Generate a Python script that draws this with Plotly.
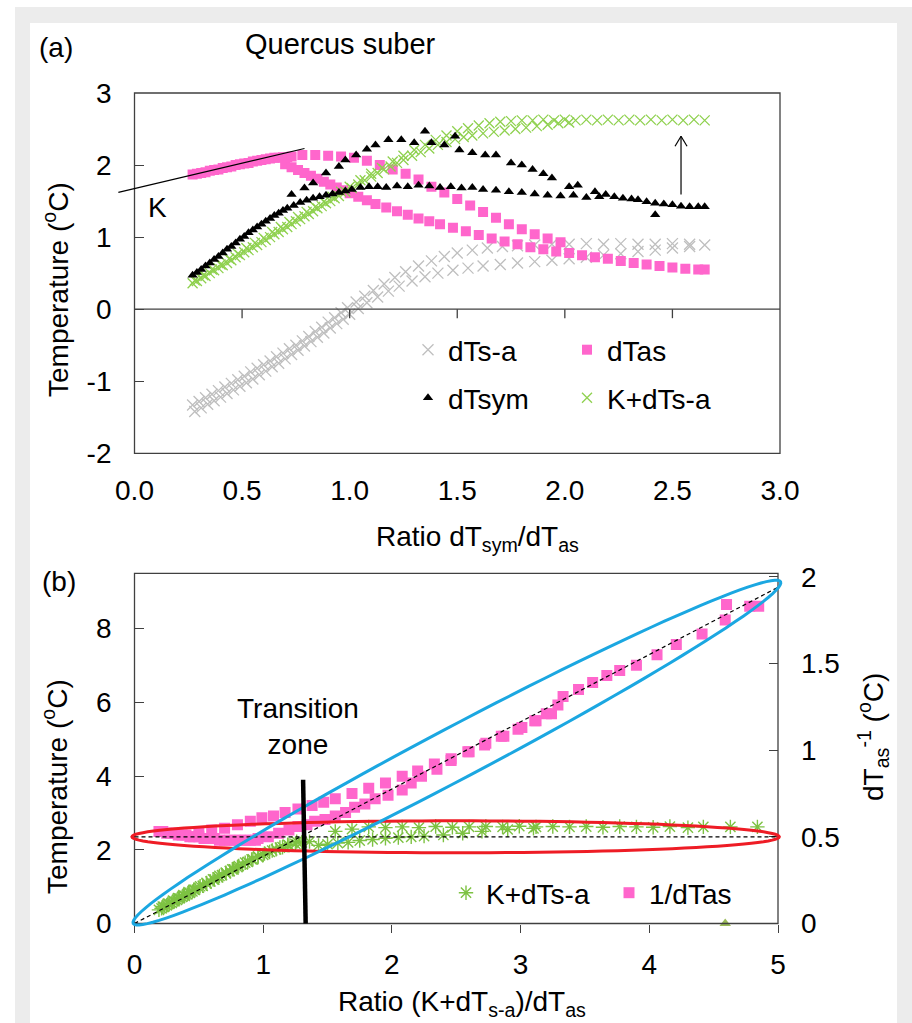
import math
import plotly.graph_objects as go

W, H = 912, 1023

# ---------------- panel (a) data ----------------
ratio_a_dtsa = [0.27,0.30,0.33,0.36,0.39,0.42,0.45,0.48,0.51,0.54,0.57,0.60,0.63,0.66,0.69,0.72,0.75,0.78,0.81,0.84,
                0.87,0.90,0.93,0.96,0.99,1.03,1.07,1.11,1.16,1.21,1.26,1.32,1.38,1.44,1.50,1.57,1.64,1.71,1.78,1.86,
                1.94,2.02,2.10,2.18,2.26,2.34,2.42,2.50,2.58,2.65,
                0.28,0.31,0.34,0.37,0.40,0.43,0.46,0.49,0.52,0.55,0.58,0.61,0.64,0.67,0.70,0.73,0.76,0.79,0.82,0.85,
                0.88,0.91,0.94,0.97,1.00,1.04,1.08,1.13,1.18,1.23,1.29,1.35,1.41,1.48,1.55,1.62,1.70,1.78,1.86,1.94,
                2.02,2.10,2.18,2.26,2.34,2.42,2.50,2.58]
dtsa = [-1.33,-1.28,-1.23,-1.18,-1.13,-1.08,-1.03,-0.98,-0.93,-0.87,-0.82,-0.77,-0.72,-0.66,-0.61,-0.55,-0.50,-0.44,-0.38,-0.31,
        -0.25,-0.18,-0.12,-0.05,0.02,0.10,0.18,0.26,0.35,0.44,0.52,0.60,0.67,0.73,0.78,0.82,0.85,0.87,0.88,0.89,
        0.90,0.90,0.91,0.90,0.91,0.90,0.90,0.91,0.90,0.89,
        -1.42,-1.37,-1.32,-1.27,-1.22,-1.17,-1.12,-1.07,-1.02,-0.97,-0.91,-0.86,-0.80,-0.75,-0.69,-0.63,-0.57,-0.51,-0.45,-0.39,
        -0.33,-0.26,-0.20,-0.14,-0.07,0.01,0.09,0.17,0.25,0.32,0.39,0.45,0.50,0.54,0.57,0.60,0.62,0.64,0.66,0.68,
        0.70,0.72,0.75,0.77,0.80,0.82,0.85,0.87]

ratio_a_dtas = [0.27,0.29,0.31,0.33,0.35,0.37,0.39,0.41,0.43,0.45,0.47,0.49,0.51,0.53,0.55,0.57,0.59,0.61,0.63,0.65,0.67,0.69,0.71,0.73,
                0.70,0.73,0.76,0.79,0.82,0.85,0.88,0.91,0.94,0.97,1.00,1.04,1.08,1.12,1.17,1.22,1.27,1.32,1.37,1.42,1.48,1.54,1.60,1.66,1.72,1.78,1.84,1.90,1.96,
                0.78,0.84,0.90,0.96,1.02,1.08,1.14,1.20,1.26,1.32,1.38,1.44,1.50,1.56,1.62,1.68,1.74,1.80,1.86,1.92,1.98,
                2.02,2.08,2.14,2.20,2.26,2.32,2.38,2.44,2.50,2.56,2.62,2.65]
dtas = [1.87,1.88,1.89,1.90,1.92,1.93,1.94,1.96,1.97,1.98,2.00,2.01,2.02,2.03,2.05,2.06,2.07,2.08,2.09,2.10,2.10,2.11,2.11,2.12,
        2.01,1.97,1.93,1.89,1.85,1.81,1.77,1.73,1.69,1.65,1.61,1.56,1.51,1.46,1.41,1.36,1.31,1.26,1.22,1.18,1.13,1.08,1.03,0.98,0.94,0.90,0.86,0.83,0.80,
        2.14,2.14,2.13,2.12,2.10,2.06,2.00,1.94,1.88,1.80,1.70,1.62,1.53,1.44,1.35,1.27,1.18,1.11,1.04,0.98,0.93,
        0.78,0.75,0.72,0.70,0.67,0.64,0.62,0.60,0.58,0.56,0.55,0.55]

ratio_a_dtsym = [0.27,0.29,0.31,0.33,0.35,0.37,0.39,0.41,0.43,0.45,0.47,0.49,0.51,0.53,0.55,0.57,0.59,0.61,0.63,0.65,0.67,0.69,0.71,0.74,0.77,0.80,0.83,0.86,0.89,0.92,0.95,0.98,1.01,
                 1.05,1.09,1.13,1.17,1.22,1.27,1.32,1.37,1.42,1.47,1.52,1.57,1.62,1.68,1.74,1.80,1.86,1.92,1.98,2.04,2.10,2.16,
                 0.73,0.79,0.83,0.89,0.95,0.98,1.03,1.08,1.12,1.18,1.24,1.30,1.35,1.38,1.44,1.49,1.51,1.57,1.63,1.68,1.75,1.80,1.85,1.90,1.94,2.02,2.06,
                 2.14,2.19,2.23,2.27,2.31,2.34,2.38,2.42,2.46,2.50,2.54,2.58,2.62,2.65,2.42]
dtsym = [0.47,0.51,0.55,0.60,0.64,0.69,0.73,0.78,0.83,0.87,0.92,0.97,1.01,1.06,1.10,1.14,1.18,1.22,1.26,1.30,1.33,1.37,1.40,1.44,1.48,1.51,1.54,1.56,1.58,1.60,1.62,1.64,1.66,
         1.69,1.70,1.70,1.69,1.71,1.70,1.72,1.71,1.69,1.70,1.68,1.69,1.66,1.65,1.63,1.62,1.60,1.58,1.57,1.58,1.55,1.56,
         1.59,1.68,1.75,1.89,1.98,2.07,2.14,2.22,2.28,2.35,2.35,2.31,2.47,2.31,2.28,2.40,2.21,2.17,2.14,2.14,2.03,2.00,1.94,1.88,1.82,1.70,1.72,
         1.63,1.59,1.56,1.54,1.53,1.52,1.49,1.47,1.46,1.45,1.43,1.42,1.42,1.42,1.31]

ratio_a_kdtsa = [0.27,0.29,0.31,0.33,0.35,0.37,0.39,0.41,0.43,0.45,0.47,0.49,0.51,0.53,0.55,0.57,0.59,0.61,0.63,0.65,0.67,0.69,0.71,0.73,0.75,
                 0.77,0.79,0.81,0.83,0.85,0.87,0.89,0.91,0.93,0.95,0.98,1.01,1.04,1.07,1.10,1.13,1.16,1.19,1.22,1.25,1.29,1.33,1.37,1.41,1.45,
                 1.49,1.53,1.57,1.62,1.67,1.72,1.77,1.82,1.87,1.92,1.97,2.02,
                 0.28,0.32,0.36,0.40,0.44,0.48,0.52,0.56,0.60,0.64,0.68,0.72,0.76,0.80,0.84,0.88,0.92,0.96,1.00,1.05,1.10,1.15,1.20,1.25,1.30,
                 1.35,1.40,1.45,1.50,1.55,1.60,1.65,1.70,1.75,1.80,1.85,1.90,1.95,2.00,2.05,2.10,2.15,2.20,2.25,2.30,2.35,2.40,2.45,2.50,2.55,2.60,2.65]
kdtsa = [0.36,0.39,0.43,0.46,0.50,0.54,0.57,0.61,0.64,0.68,0.72,0.75,0.79,0.82,0.86,0.89,0.93,0.96,1.00,1.04,1.07,1.11,1.14,1.18,1.22,
         1.25,1.29,1.32,1.36,1.40,1.43,1.47,1.50,1.54,1.57,1.63,1.68,1.73,1.79,1.84,1.89,1.94,1.98,2.03,2.07,2.13,2.18,2.23,2.28,2.32,
         2.36,2.39,2.41,2.44,2.46,2.48,2.50,2.52,2.54,2.56,2.58,2.59,
         0.40,0.47,0.55,0.62,0.70,0.77,0.85,0.92,0.99,1.07,1.14,1.21,1.28,1.35,1.42,1.49,1.56,1.63,1.70,1.79,1.88,1.96,2.05,2.13,2.21,
         2.28,2.35,2.41,2.47,2.51,2.55,2.58,2.60,2.61,2.62,2.62,2.63,2.62,2.63,2.62,2.63,2.62,2.63,2.62,2.63,2.62,2.63,2.62,2.63,2.62,2.63,2.62]

# ---------------- panel (b) data ----------------
ratio_b_kdtsa = [0.19,0.21,0.23,0.25,0.27,0.29,0.31,0.33,0.35,0.37,0.39,0.41,0.43,0.45,0.47,0.50,0.53,0.56,0.59,0.62,0.65,0.68,0.71,0.74,0.77,
                 0.80,0.84,0.88,0.92,0.96,1.00,1.05,1.10,1.15,1.20,1.25,1.30,1.36,1.43,1.50,1.58,1.66,1.75,1.85,1.95,2.05,2.15,2.25,2.40,2.55,2.70,2.90,3.10,
                 0.22,0.26,0.30,0.34,0.38,0.42,0.46,0.51,0.56,0.61,0.66,0.71,0.76,0.81,0.86,0.91,0.96,1.01,1.07,1.13,1.19,1.26,
                 1.56,1.69,1.82,1.95,2.08,2.21,2.34,2.47,2.60,2.73,2.86,2.99,3.12,3.25,3.38,3.51,3.64,3.77,3.90,4.03,4.16,4.30,4.42,4.63,4.84]
kdtsa_b = [0.37,0.41,0.45,0.49,0.53,0.56,0.60,0.64,0.68,0.72,0.75,0.79,0.83,0.87,0.91,0.97,1.02,1.08,1.14,1.19,1.25,1.31,1.36,1.42,1.47,
           1.53,1.60,1.67,1.74,1.80,1.86,1.94,2.01,2.07,2.12,2.16,2.20,2.22,2.12,2.15,2.18,2.20,2.25,2.28,2.31,2.33,2.35,2.37,2.40,2.45,2.50,2.55,2.58,
           0.46,0.54,0.62,0.69,0.77,0.85,0.92,1.01,1.10,1.20,1.29,1.38,1.47,1.56,1.65,1.74,1.82,1.90,1.98,2.06,2.14,2.22,
           2.50,2.56,2.62,2.60,2.62,2.60,2.63,2.61,2.62,2.63,2.62,2.64,2.62,2.63,2.62,2.63,2.61,2.63,2.62,2.61,2.63,2.60,2.62,2.62,2.62]

ratio_b_inv = [0.19,0.22,0.25,0.28,0.31,0.34,0.37,0.40,0.43,0.46,0.50,0.54,0.58,0.62,0.66,0.70,0.74,0.78,0.82,0.86,0.90,0.94,
               0.50,0.60,0.70,0.80,0.90,0.99,1.08,1.17,1.27,1.38,1.47,1.56,1.69,1.82,1.95,2.08,2.20,2.33,2.46,2.59,2.72,2.85,2.98,3.11,3.20,3.29,
               0.96,1.04,1.12,1.20,1.27,1.34,1.40,1.48,1.56,1.64,1.71,1.79,1.87,1.97,2.08,2.15,2.23,2.35,2.46,2.60,2.73,2.87,3.01,3.12,3.24,
               3.33,3.45,3.56,3.67,3.77,3.90,4.06,4.21,4.41,4.59,4.60,4.78,4.85]
inv_dtas = [0.53,0.53,0.52,0.52,0.52,0.51,0.51,0.51,0.50,0.50,0.50,0.49,0.49,0.49,0.48,0.48,0.48,0.48,0.48,0.48,0.48,0.48,
            0.53,0.54,0.55,0.57,0.59,0.61,0.62,0.64,0.66,0.68,0.70,0.72,0.75,0.78,0.81,0.85,0.88,0.92,0.95,0.99,1.03,1.08,1.12,1.17,1.21,1.26,
            0.49,0.50,0.52,0.54,0.56,0.57,0.59,0.60,0.62,0.64,0.67,0.69,0.72,0.74,0.77,0.81,0.85,0.89,0.94,0.99,1.04,1.08,1.13,1.17,1.21,
            1.31,1.35,1.39,1.43,1.46,1.49,1.55,1.61,1.67,1.75,1.84,1.83,1.83]

stray_x = [4.59]
stray_y = [0.0]

# tick values / labels
a_xtick_vals = [0, 0.5, 1.0, 1.5, 2.0, 2.5, 3.0]
a_xtick_text = ["0.0", "0.5", "1.0", "1.5", "2.0", "2.5", "3.0"]
a_ytick_vals = [-2, -1, 0, 1, 2, 3]
a_ytick_text = ["-2", "-1", "0", "1", "2", "3"]
b_xtick_vals = [0, 1, 2, 3, 4, 5]
b_xtick_text = ["0", "1", "2", "3", "4", "5"]
b_yltick_vals = [0, 2, 4, 6, 8]
b_yltick_text = ["0", "2", "4", "6", "8"]
b_yrtick_vals = [0, 0.5, 1, 1.5, 2]
b_yrtick_text = ["0", "0.5", "1", "1.5", "2"]

# reference guide lines (data units)
k_line = [(-0.075, 1.62), (0.79, 2.23)]
arrow_x, arrow_y0, arrow_y1 = 2.54, 1.59, 2.40
transition_line = [(1.31, 3.9), (1.33, 0.0)]
hline_y = 2.352
diag_end = (5.0, 9.12)

# ---------------- geometry ----------------
FONT = "Liberation Sans, Arial, sans-serif"
FS = 28
AXC = "#404040"

AX0, AX1, AY0, AY1 = 134.5, 780.0, 453.3, 93.0      # panel a pixels (left,right,bottom,top)
A_XR, A_YR = (0.0, 3.0), (-2.0, 3.0)
BX0, BX1, BY0, BY1 = 134.5, 778.0, 923.5, 573.3     # panel b
B_XR, B_YL, B_YR = (0.0, 5.0), (0.0, 9.5), (0.0, 2.02)


def pxp(x):
    return x / W


def pyp(y):
    return 1 - y / H


def a_px(x, y):
    return (AX0 + (x - A_XR[0]) / (A_XR[1] - A_XR[0]) * (AX1 - AX0),
            AY0 - (y - A_YR[0]) / (A_YR[1] - A_YR[0]) * (AY0 - AY1))


def b_px(x, y):
    return (BX0 + (x - B_XR[0]) / (B_XR[1] - B_XR[0]) * (BX1 - BX0),
            BY0 - (y - B_YL[0]) / (B_YL[1] - B_YL[0]) * (BY0 - BY1))


def line_shape(p0, p1, color="black", width=1.2, dash=None):
    ln = dict(color=color, width=width)
    if dash:
        ln["dash"] = dash
    return dict(type="line", xref="paper", yref="paper",
                x0=pxp(p0[0]), y0=pyp(p0[1]), x1=pxp(p1[0]), y1=pyp(p1[1]),
                line=ln, layer="above")


def ellipse_path(c, a, b, ang, n=120):
    pts = []
    ca, sa = math.cos(ang), math.sin(ang)
    for i in range(n + 1):
        t = 2 * math.pi * i / n
        ex, ey = a * math.cos(t), b * math.sin(t)
        px = c[0] + ex * ca - ey * sa
        py = c[1] + ex * sa + ey * ca
        pts.append((pxp(px), pyp(py)))
    return "M " + " L ".join(f"{x:.5f},{y:.5f}" for x, y in pts) + " Z"


fig = go.Figure()

# panel (a) traces
fig.add_trace(go.Scatter(x=ratio_a_dtsa, y=dtsa, mode="markers", name="dTs-a", legend="legend",
                         marker=dict(symbol="x-thin", size=11, line=dict(color="#bfbfbf", width=1.3)),
                         xaxis="x", yaxis="y"))
fig.add_trace(go.Scatter(x=ratio_a_dtas, y=dtas, mode="markers", name="dTas", legend="legend2",
                         marker=dict(symbol="square", size=10, color="#ff66cc"), xaxis="x", yaxis="y"))
fig.add_trace(go.Scatter(x=ratio_a_kdtsa, y=kdtsa, mode="markers", name="K+dTs-a", legend="legend4",
                         marker=dict(symbol="x-thin", size=10, line=dict(color="#8fd14f", width=1.3)),
                         xaxis="x", yaxis="y"))
fig.add_trace(go.Scatter(x=ratio_a_dtsym, y=dtsym, mode="markers", name="dTsym", legend="legend3",
                         marker=dict(symbol="triangle-up", size=9, color="black"), xaxis="x", yaxis="y"))

# panel (b) traces
fig.add_trace(go.Scatter(x=ratio_b_kdtsa, y=kdtsa_b, mode="markers", name="K+dTs-a", legend="legend5",
                         marker=dict(symbol="asterisk", size=12, line=dict(color="#7dc242", width=1.4)),
                         xaxis="x2", yaxis="y2"))
fig.add_trace(go.Scatter(x=ratio_b_inv, y=inv_dtas, mode="markers", name="1/dTas", legend="legend6",
                         marker=dict(symbol="square", size=11, color="#ff66cc"), xaxis="x2", yaxis="y3"))
fig.add_trace(go.Scatter(x=stray_x, y=stray_y, mode="markers", showlegend=False, cliponaxis=False,
                         marker=dict(symbol="triangle-up", size=10, color="#9bbb59"), xaxis="x2", yaxis="y3"))

tickfont = dict(family=FONT, size=FS, color="black")
common = dict(showgrid=False, zeroline=False, showline=False, automargin=False)

layout = dict(
    width=W, height=H, autosize=False,
    margin=dict(l=0, r=0, t=0, b=0, pad=0, autoexpand=False),
    paper_bgcolor="white", plot_bgcolor="rgba(0,0,0,0)",
    font=dict(family=FONT, size=FS, color="black"),
    xaxis=dict(domain=[pxp(AX0), pxp(AX1)], range=list(A_XR), anchor="y", ticks="",
               tickvals=a_xtick_vals, ticktext=a_xtick_text, tickfont=tickfont, ticklabelstandoff=18, **common),
    yaxis=dict(domain=[pyp(AY0), pyp(AY1)], range=list(A_YR), anchor="x",
               ticks="inside", ticklen=9, tickwidth=1.3, tickcolor=AXC,
               tickvals=a_ytick_vals, ticktext=a_ytick_text, tickfont=tickfont, ticklabelstandoff=22, **common),
    xaxis2=dict(domain=[pxp(BX0), pxp(BX1)], range=list(B_XR), anchor="y2",
                ticks="outside", ticklen=8, tickwidth=1.3, tickcolor=AXC,
                tickvals=b_xtick_vals, ticktext=b_xtick_text, tickfont=tickfont, ticklabelstandoff=8, **common),
    yaxis2=dict(domain=[pyp(BY0), pyp(BY1)], range=list(B_YL), anchor="x2",
                ticks="inside", ticklen=9, tickwidth=1.3, tickcolor=AXC,
                tickvals=b_yltick_vals, ticktext=b_yltick_text, tickfont=tickfont, ticklabelstandoff=22, **common),
    yaxis3=dict(overlaying="y2", anchor="x2", side="right", range=list(B_YR),
                ticks="inside", ticklen=9, tickwidth=1.3, tickcolor=AXC,
                tickvals=b_yrtick_vals, ticktext=b_yrtick_text, tickfont=tickfont, ticklabelstandoff=22, **common),
)

# legends: one entry each, placed individually
leg_pos = {"legend": (428, 350), "legend2": (587, 350), "legend3": (428, 398), "legend4": (587, 398),
           "legend5": (466, 893), "legend6": (629, 893)}
for key, (mx, my) in leg_pos.items():
    layout[key] = dict(x=pxp(mx - 20), y=pyp(my), xanchor="left", yanchor="middle",
                       bgcolor="rgba(0,0,0,0)", borderwidth=0, font=dict(family=FONT, size=FS, color="black"),
                       itemsizing="trace", tracegroupgap=0)

fig.update_layout(**layout)

shapes = []
# page background frame
shapes.append(dict(type="rect", xref="paper", yref="paper", x0=pxp(15), x1=1.0, y0=0.0, y1=pyp(7),
                   fillcolor="#ececec", line=dict(width=0), layer="below"))
shapes.append(dict(type="rect", xref="paper", yref="paper", x0=pxp(30), x1=pxp(897), y0=0.0, y1=pyp(23),
                   fillcolor="white", line=dict(width=0), layer="below"))
# plot frames
shapes.append(dict(type="rect", xref="paper", yref="paper", x0=pxp(AX0), x1=pxp(AX1), y0=pyp(AY0), y1=pyp(AY1),
                   line=dict(color=AXC, width=1.3), layer="above"))
shapes.append(dict(type="rect", xref="paper", yref="paper", x0=pxp(BX0), x1=pxp(BX1), y0=pyp(BY0), y1=pyp(BY1),
                   line=dict(color=AXC, width=1.3), layer="above"))
# panel (a) horizontal axis at y = 0 with downward ticks
shapes.append(line_shape(a_px(A_XR[0], 0), a_px(A_XR[1], 0), color=AXC, width=1.3))
for tv in a_xtick_vals[1:-1]:
    p = a_px(tv, 0)
    shapes.append(line_shape(p, (p[0], p[1] + 9), color=AXC, width=1.3))

# panel (a) K line and arrow
shapes.append(line_shape(a_px(*k_line[0]), a_px(*k_line[1]), width=1.2))
tip = a_px(arrow_x, arrow_y1)
shapes.append(line_shape(a_px(arrow_x, arrow_y0), tip, width=1.2))
shapes.append(line_shape(tip, (tip[0] - 6, tip[1] + 10), width=1.2))
shapes.append(line_shape(tip, (tip[0] + 6, tip[1] + 10), width=1.2))

# panel (b) dashed guides
shapes.append(line_shape(b_px(0, 0), b_px(*diag_end), width=1.2, dash="4px,3px"))
shapes.append(line_shape(b_px(0, hline_y), b_px(5.0, hline_y), width=1.2, dash="4px,3px"))

# red ellipse (horizontal)
r0, r1 = b_px(-0.02, hline_y), b_px(5.01, hline_y)
rc = ((r0[0] + r1[0]) / 2, (r0[1] + r1[1]) / 2)
shapes.append(dict(type="path", xref="paper", yref="paper",
                   path=ellipse_path(rc, (r1[0] - r0[0]) / 2, 16, 0.0),
                   line=dict(color="#ee1c25", width=3), layer="above"))
# blue ellipse (diagonal)
t0, t1 = b_px(-0.01, 0.0), b_px(5.02, 9.27)
bc = ((t0[0] + t1[0]) / 2, (t0[1] + t1[1]) / 2)
blen = math.hypot(t1[0] - t0[0], t1[1] - t0[1]) / 2
bang = math.atan2(t1[1] - t0[1], t1[0] - t0[0])
shapes.append(dict(type="path", xref="paper", yref="paper",
                   path=ellipse_path(bc, blen, 26, bang),
                   line=dict(color="#1ba7e1", width=3), layer="above"))
# transition zone line
shapes.append(line_shape(b_px(*transition_line[0]), b_px(*transition_line[1]), width=4.5))

fig.update_layout(shapes=shapes)


def ann(text, x, y, size=FS, angle=0, xanchor="center"):
    fig.add_annotation(text=text, x=pxp(x), y=pyp(y), xref="paper", yref="paper", showarrow=False,
                       xanchor=xanchor, yanchor="middle", textangle=angle,
                       font=dict(family=FONT, size=size, color="black"))


ann("(a)", 56, 48)
ann("Quercus suber", 340, 44, size=29)
ann("K", 157, 207)
ann("Temperature (<sup>o</sup>C)", 56, 290, angle=-90)
ann("Ratio dT<sub>sym</sub>/dT<sub>as</sub>", 477, 538)
ann("(b)", 59, 581)
ann("Transition<br>zone", 298, 726)
ann("Temperature (<sup>o</sup>C)", 55, 787, angle=-90)
ann("dT<sub>as</sub><sup>-1</sup> (<sup>o</sup>C)", 873, 737, angle=-90)
ann("Ratio (K+dT<sub>s-a</sub>)/dT<sub>as</sub>", 462, 1003)

fig.write_html(
    "out.html",
    config={"displayModeBar": False, "responsive": False},
    post_script="document.body.style.margin='0';document.body.style.overflow='hidden';"
                "document.documentElement.style.overflow='hidden';",
)
